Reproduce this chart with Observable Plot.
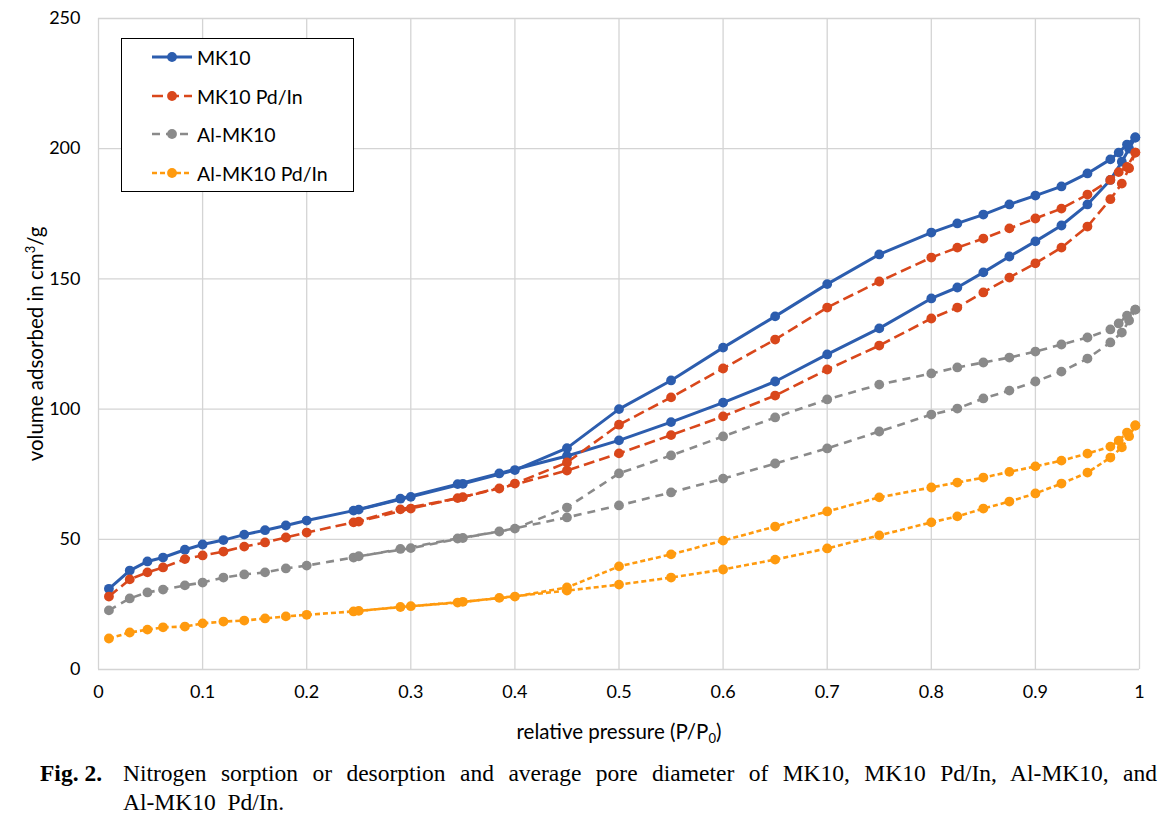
<!DOCTYPE html>
<html><head><meta charset="utf-8">
<script src="https://cdn.jsdelivr.net/npm/d3@7"></script>
<script src="https://cdn.jsdelivr.net/npm/@observablehq/plot@0.6"></script>
<style>
body{margin:0;background:#fff;}
#wrap{position:relative;width:1171px;height:821px;overflow:hidden;background:#fff;font-family:Lato,sans-serif;}
#chart{position:absolute;left:0;top:0;}
#legend{position:absolute;left:121px;top:38px;width:231px;height:152px;border:1.5px solid #000;background:#fff;}
.lg{position:absolute;left:30px;height:24px;display:flex;align-items:center;font-size:19.5px;color:#000;white-space:nowrap;}
.lg svg{margin-right:5px;}
#xlabel{position:absolute;left:419px;width:400px;top:718px;text-align:center;font-size:20.5px;line-height:26px;color:#000;}
#ylabel{position:absolute;left:35px;top:344px;width:400px;margin-left:-200px;margin-top:-13px;height:26px;line-height:26px;text-align:center;font-size:20.5px;color:#000;transform:rotate(-90deg);}
sub{font-size:13px;vertical-align:-4px;line-height:0;}
sup{font-size:13px;vertical-align:8px;line-height:0;}
#caption{position:absolute;left:40px;top:759px;width:1117px;font-family:"Liberation Serif",serif;font-size:23.5px;line-height:29px;color:#000;}
#caption .fig{position:absolute;left:0;top:0;font-weight:bold;}
#caption .l1{position:absolute;left:83px;top:0;width:1034px;text-align:justify;text-align-last:justify;white-space:nowrap;}
#caption .l2{position:absolute;left:83px;top:29px;}
</style></head>
<body>
<div id="wrap">
  <div id="chart"></div>
  <div id="legend"></div>
  <div id="xlabel"></div>
  <div id="ylabel"></div>
  <div id="caption">
    <span class="fig">Fig. 2.</span>
    <div class="l1" id="cap1"></div>
    <div class="l2" id="cap2"></div>
  </div>
</div>
<script>
// ---- data ----
const seriesNames = ["MK10", "MK10 Pd/In", "Al-MK10", "Al-MK10 Pd/In"];
const xTicks = [0, 0.1, 0.2, 0.3, 0.4, 0.5, 0.6, 0.7, 0.8, 0.9, 1];
const yTicks = [0, 50, 100, 150, 200, 250];

// adsorption branch relative pressures
const adsP = [0.01,0.03,0.047,0.062,0.083,0.1,0.12,0.14,0.16,0.18,0.2,0.245,0.29,0.345,0.385,0.45,0.5,0.55,0.6,0.65,0.7,0.75,0.8,0.825,0.85,0.875,0.9,0.925,0.95,0.972,0.983,0.99,0.996];
// desorption branch relative pressures
const desP = [0.996,0.988,0.98,0.972,0.95,0.925,0.9,0.875,0.85,0.825,0.8,0.75,0.7,0.65,0.6,0.55,0.5,0.45,0.4,0.35,0.3,0.25];

const mk10Ads = [31,38,41.5,43,46,48,49.7,51.8,53.5,55.3,57.2,61,65.6,71.2,75.3,82,88,95,102.5,110.6,121,131,142.5,146.7,152.5,158.6,164.4,170.5,178.6,188,195,200,204.3];
const mk10Des = [204.3,201.6,198.5,195.9,190.5,185.5,182,178.6,174.7,171.3,167.8,159.4,148,135.6,123.6,111,100,85,76.6,71.3,66.3,61.4];

const mk10PdAds = [28,34.6,37.3,39.2,42.4,43.8,45.3,47.2,48.8,50.7,52.6,56.5,61.5,65.8,69.5,76.4,83,90,97.2,105.2,115.2,124.4,134.8,139,144.8,150.5,156,162,170.1,180.6,186.6,192.5,198.5];
const mk10PdDes = [198.5,193,191,188,182.4,177,173.2,169.4,165.5,162,158.2,149,139,126.7,115.6,104.5,94,79.5,71.4,66.2,61.8,56.8];

const alAds = [22.7,27.3,29.6,30.7,32.3,33.4,35.3,36.5,37.3,38.8,39.9,43,46.3,50.3,53,58.4,63,68,73.3,79.1,84.9,91.4,97.9,100.2,104.1,107.1,110.6,114.4,119.4,125.6,129.4,134,138.2];
const alDes = [138.2,135.9,132.9,130.6,127.5,124.8,122.1,119.8,117.9,116,113.7,109.4,103.7,96.8,89.5,82.2,75.3,62.2,54.1,50.5,46.6,43.5];

const alPdAds = [11.9,14.2,15.3,16.2,16.5,17.7,18.4,18.8,19.6,20.4,21,22.3,24,25.7,27.5,30.3,32.6,35.3,38.4,42.2,46.5,51.5,56.5,58.8,61.8,64.5,67.6,71.4,75.6,81.4,85.3,89.6,93.7];
const alPdDes = [93.7,91,87.9,85.6,82.9,80.2,78,75.9,73.7,71.8,69.9,66.1,60.7,54.9,49.5,44.2,39.6,31.5,28,26,24.3,22.5];

const xLabelHtml = "relative pressure (P/P<sub>0</sub>)";
const yLabelHtml = "volume adsorbed in cm<sup>3</sup>/g";
const captionLine1 = "Nitrogen sorption or desorption and average pore diameter of MK10, MK10 Pd/In, Al-MK10, and";
const captionLine2 = "Al-MK10\u00a0 Pd/In.";

// ---- styles ----
const styles = [
  {color: "#2C5DAE", width: 3, dash: null},
  {color: "#D9471B", width: 2.6, dash: "11,5"},
  {color: "#8A8A8A", width: 2.6, dash: "8,6"},
  {color: "#FF9A0E", width: 2.6, dash: "5,3"}
];
const adsSets = [mk10Ads, mk10PdAds, alAds, alPdAds];
const desSets = [mk10Des, mk10PdDes, alDes, alPdDes];

const marks = [
  Plot.gridX(xTicks, {stroke: "#d4d4d4", strokeOpacity: 1, strokeWidth: 1.3}),
  Plot.gridY(yTicks, {stroke: "#d4d4d4", strokeOpacity: 1, strokeWidth: 1.3})
];
seriesNames.forEach((name, i) => {
  const rows = [];
  adsP.forEach((p, j) => rows.push({p, v: adsSets[i][j], branch: "ads", series: name}));
  desP.forEach((p, j) => rows.push({p, v: desSets[i][j], branch: "des", series: name}));
  const st = styles[i];
  marks.push(Plot.line(rows, {x: "p", y: "v", z: "branch", stroke: st.color, strokeWidth: st.width,
    strokeDasharray: st.dash, strokeLinejoin: "round", strokeLinecap: "butt"}));
  marks.push(Plot.dot(rows, {x: "p", y: "v", r: 4.9, fill: st.color, stroke: "none"}));
});

const chart = Plot.plot({
  width: 1171, height: 750,
  marginLeft: 98, marginRight: 32, marginTop: 18, marginBottom: 81,
  style: {fontFamily: "Lato, sans-serif", fontSize: "18px", color: "#000", background: "transparent", overflow: "visible"},
  x: {domain: [0, 1], ticks: xTicks, tickFormat: d => String(d), tickSize: 0, tickPadding: 16, label: null},
  y: {domain: [0, 250], ticks: yTicks, tickSize: 0, tickPadding: 18, label: null},
  marks
});
document.getElementById("chart").appendChild(chart);

// ---- axis titles ----
document.getElementById("xlabel").innerHTML = xLabelHtml;
document.getElementById("ylabel").innerHTML = yLabelHtml;

// ---- legend ----
const legend = document.getElementById("legend");
const rowCenters = [18, 57, 95, 134];
seriesNames.forEach((name, i) => {
  const st = styles[i];
  const div = document.createElement("div");
  div.className = "lg";
  div.style.top = (rowCenters[i] - 12) + "px";
  div.innerHTML = `<svg width="40" height="14"><line x1="0" y1="7" x2="40" y2="7" stroke="${st.color}" stroke-width="${st.width}" ${st.dash ? `stroke-dasharray="${st.dash}"` : ""}/><circle cx="20" cy="7" r="4.9" fill="${st.color}"/></svg><span>${name}</span>`;
  legend.appendChild(div);
});
document.getElementById("cap1").textContent = captionLine1;
document.getElementById("cap2").textContent = captionLine2;
</script>
</body></html>
